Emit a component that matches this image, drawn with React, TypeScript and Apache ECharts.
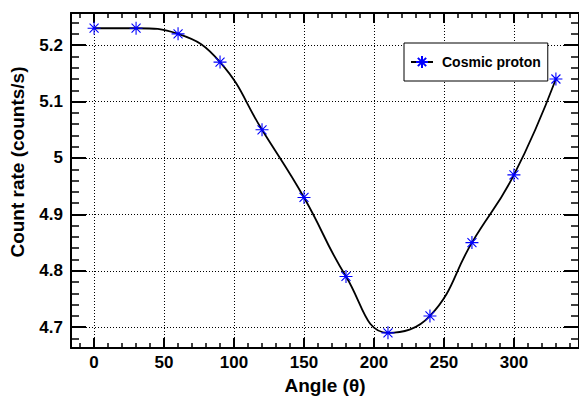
import React, { useEffect, useRef } from "react";
import * as echarts from "echarts";

const angles = [0, 30, 60, 90, 120, 150, 180, 210, 240, 270, 300, 330];
const rates = [5.23, 5.23, 5.22, 5.17, 5.05, 4.93, 4.79, 4.69, 4.72, 4.85, 4.97, 5.14];
const seriesName = "Cosmic proton";

const xMajorTicks = [0, 50, 100, 150, 200, 250, 300];
const xMinorTicks = [-10, 10, 20, 30, 40, 60, 70, 80, 90, 110, 120, 130, 140, 160, 170, 180, 190, 210, 220, 230, 240, 260, 270, 280, 290, 310, 320, 330, 340];
const yMajorTicks = [4.7, 4.8, 4.9, 5.0, 5.1, 5.2];
const yMinorTicks = [4.68, 4.72, 4.74, 4.76, 4.78, 4.82, 4.84, 4.86, 4.88, 4.92, 4.94, 4.96, 4.98, 5.02, 5.04, 5.06, 5.08, 5.12, 5.14, 5.16, 5.18, 5.22, 5.24];

const X_MIN = -16.5;
const X_MAX = 346.5;
const Y_MIN = 4.663;
const Y_MAX = 5.257;

const FONT = "Liberation Sans";
const STAR = "path://M0 6.5 L13 6.5 M6.5 0 L6.5 13 M2 2 L11 11 M11 2 L2 11";

function tickAxis(kind: "x" | "y", position: string, values: number[], length: number, width: number, showLine: boolean) {
  const base: any = {
    type: "value",
    position,
    min: kind === "x" ? X_MIN : Y_MIN,
    max: kind === "x" ? X_MAX : Y_MAX,
    axisLine: { show: showLine, onZero: false, lineStyle: { color: "#000", width: 2 } },
    axisTick: { show: true, inside: true, length, customValues: values, lineStyle: { color: "#000", width } },
    axisLabel: { show: false },
    splitLine: { show: false },
  };
  return base;
}

export default function App() {
  const ref = useRef<HTMLDivElement>(null);
  useEffect(() => {
    if (!ref.current) return;
    const chart = echarts.init(ref.current, null, { renderer: "svg" });
    const labelStyle = { color: "#000", fontSize: 17, fontWeight: "bold", fontFamily: FONT };
    const nameStyle = { color: "#000", fontSize: 19, fontWeight: "bold", fontFamily: FONT };
    const dotted = { show: true, lineStyle: { color: "#000", width: 1, type: [1, 2] } };

    const xMain = tickAxis("x", "bottom", xMajorTicks, 10, 2, true);
    xMain.axisLabel = { show: true, customValues: xMajorTicks, margin: 6, ...labelStyle };
    xMain.splitLine = dotted;
    xMain.name = "Angle (\u03B8)";
    xMain.nameLocation = "middle";
    xMain.nameGap = 26;
    xMain.nameTextStyle = nameStyle;

    const yMain = tickAxis("y", "left", yMajorTicks, 15, 2, true);
    yMain.axisLabel = { show: true, customValues: yMajorTicks, margin: 8, ...labelStyle };
    yMain.splitLine = dotted;
    yMain.name = "Count rate (counts/s)";
    yMain.nameLocation = "middle";
    yMain.nameGap = 44;
    yMain.nameTextStyle = { ...nameStyle, padding: [0, 0, 0, 37] };

    chart.setOption({
      animation: false,
      backgroundColor: "#fff",
      grid: { left: 71, top: 13, right: -2, bottom: 51, containLabel: false },
      xAxis: [
        xMain,
        tickAxis("x", "bottom", xMinorTicks, 5, 1.5, false),
        tickAxis("x", "top", xMajorTicks, 10, 2, true),
        tickAxis("x", "top", xMinorTicks, 5, 1.5, false),
      ],
      yAxis: [
        yMain,
        tickAxis("y", "left", yMinorTicks, 8, 1.5, false),
        tickAxis("y", "right", yMajorTicks, 15, 2, true),
        tickAxis("y", "right", yMinorTicks, 8, 1.5, false),
      ],
      legend: {
        data: [seriesName],
        left: 404,
        top: 43,
        orient: "vertical",
        backgroundColor: "#fff",
        borderColor: "#000",
        borderWidth: 1,
        borderRadius: 0,
        padding: [12, 7, 12, 6],
        itemWidth: 22,
        itemHeight: 15,
        textStyle: { color: "#000", fontSize: 14, fontWeight: "bold", fontFamily: FONT, padding: [0, 0, 0, 4] },
      },
      series: [
        {
          name: seriesName,
          type: "line",
          xAxisIndex: 0,
          yAxisIndex: 0,
          data: angles.map((a, i) => [a, rates[i]]),
          smooth: 0.45,
          symbol: STAR,
          symbolSize: 13,
          showAllSymbol: true,
          clip: false,
          itemStyle: { color: "#0000ff", borderColor: "#0000ff", borderWidth: 1.1 },
          lineStyle: { color: "#000", width: 1.8 },
        },
      ],
    });
    return () => chart.dispose();
  }, []);
  return <div ref={ref} style={{ position: "absolute", left: 0, top: 0, width: 579, height: 400 }} />;
}
